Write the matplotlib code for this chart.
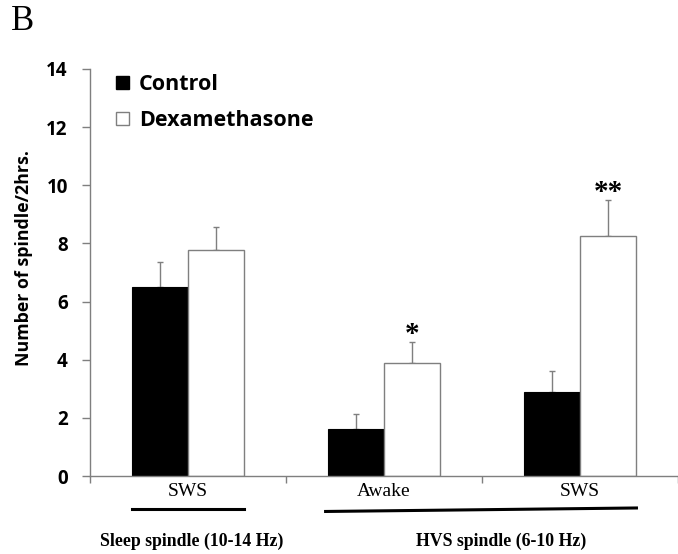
import numpy as np
import matplotlib
matplotlib.use("Agg")
import matplotlib.pyplot as plt
from matplotlib.patches import Patch

# spindle counts per 2 h, mean and upper SEM
conditions = ["SWS", "Awake", "SWS"]
control_mean = [6.5, 1.62, 2.88]
control_err = [0.86, 0.50, 0.73]
dexa_mean = [7.78, 3.88, 8.24]
dexa_err = [0.77, 0.73, 1.24]
stars = ["", "*", "**"]
groups = ["Sleep spindle (10-14 Hz)", "HVS spindle (6-10 Hz)"]
yticks = [0, 2, 4, 6, 8, 10, 12, 14]

GRAY = "#7f7f7f"
SANS = "Open Sans"
SERIF = "Liberation Serif"

fig = plt.figure(figsize=(6.78, 5.54), dpi=100)
ax = fig.add_axes([90 / 678, 78 / 554, 588 / 678, 407 / 554])

centers = np.arange(len(conditions)) + 0.5
w = 0.288

ax.bar(centers - w / 2, control_mean, w, color="black", edgecolor="black", linewidth=0.8, zorder=2)
ax.bar(centers + w / 2, dexa_mean, w, color="white", edgecolor=GRAY, linewidth=1.0, zorder=2)
ax.errorbar(centers - w / 2, control_mean, yerr=[np.zeros(3), control_err], fmt="none",
            ecolor=GRAY, elinewidth=1.0, capsize=2.5, capthick=1.0, zorder=1)
ax.errorbar(centers + w / 2, dexa_mean, yerr=[np.zeros(3), dexa_err], fmt="none",
            ecolor=GRAY, elinewidth=1.0, capsize=2.5, capthick=1.0, zorder=1)

for x, m, e, s in zip(centers + w / 2, dexa_mean, dexa_err, stars):
    if s:
        ax.text(x, m + e - 0.2, s, ha="center", va="bottom", fontsize=21,
                family=SERIF, fontweight="bold")

ax.set_xlim(0, 588 / 198)
ax.set_ylim(0, 14)
ax.set_yticks(yticks)
ax.set_yticklabels([str(t) for t in yticks], fontsize=13.5, fontweight="bold", family=SANS)
ax.set_xticks([0, 1, 2, 3])
ax.set_xticklabels([])
ax.set_xticks(centers, minor=True)
ax.set_xticklabels(conditions, minor=True, fontsize=14, family=SERIF)
ax.tick_params(axis="x", which="minor", length=0, pad=5)
ax.tick_params(axis="x", which="major", length=5, width=1, color=GRAY)
ax.tick_params(axis="y", length=6, width=1, color=GRAY, pad=10)

for side in ["top", "right"]:
    ax.spines[side].set_visible(False)
for side in ["left", "bottom"]:
    ax.spines[side].set_color(GRAY)
    ax.spines[side].set_linewidth(1.0)

ax.set_ylabel("Number of spindle/2hrs.", fontsize=12.8, fontweight="bold", family=SANS)
ax.yaxis.set_label_coords(-0.097, 0.535)

# group brackets below the category labels
ax.plot([centers[0] - w, centers[0] + w], [-1.13, -1.13], color="black", lw=2.2, clip_on=False)
ax.plot([centers[1] - w - 0.01, centers[2] + w], [-1.22, -1.1], color="black", lw=2.2, clip_on=False)
ax.text(centers[0] + 0.02, -2.24, groups[0], ha="center", va="center", fontsize=12.8,
        fontweight="bold", family=SERIF)
ax.text((centers[1] + centers[2]) / 2 + 0.1, -2.24, groups[1], ha="center", va="center",
        fontsize=12.8, fontweight="bold", family=SERIF)

handles = [Patch(facecolor="black", edgecolor="black"),
           Patch(facecolor="white", edgecolor=GRAY)]
ax.legend(handles, ["Control", "Dexamethasone"], loc="upper left", bbox_to_anchor=(0.012, 1.035),
          frameon=False, handlelength=0.6, handleheight=0.6, handletextpad=0.45,
          labelspacing=0.7, prop={"family": SANS, "weight": "bold", "size": 15.5})

fig.text(11 / 678, 1 - 22 / 554, "B", fontsize=25, family=SERIF, va="center", ha="left")

fig.savefig("out.png", dpi=100)
